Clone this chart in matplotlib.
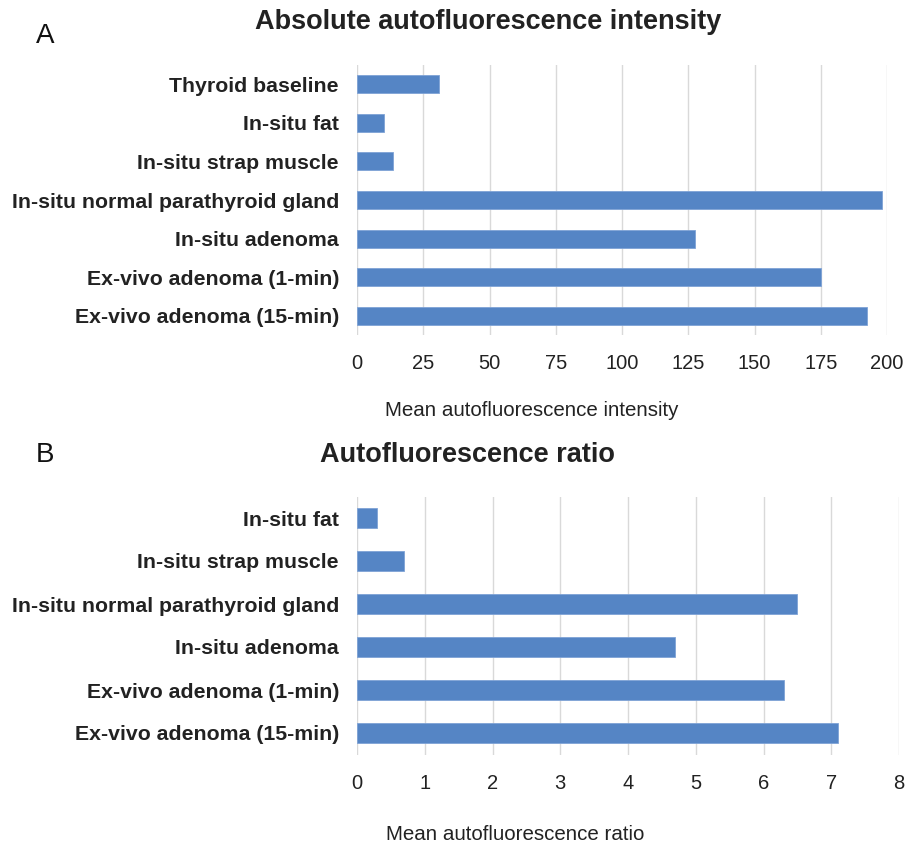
import matplotlib
matplotlib.use("Agg")
import matplotlib.pyplot as plt

plt.rcParams['font.family'] = ['Liberation Sans', 'DejaVu Sans']

cats_a = ["Thyroid baseline", "In-situ fat", "In-situ strap muscle",
          "In-situ normal parathyroid gland", "In-situ adenoma",
          "Ex-vivo adenoma (1-min)", "Ex-vivo adenoma (15-min)"]
vals_a = [31, 10, 13.7, 198, 127.5, 175, 192.6]
ticks_a = [0, 25, 50, 75, 100, 125, 150, 175, 200]

cats_b = ["In-situ fat", "In-situ strap muscle",
          "In-situ normal parathyroid gland", "In-situ adenoma",
          "Ex-vivo adenoma (1-min)", "Ex-vivo adenoma (15-min)"]
vals_b = [0.3, 0.7, 6.5, 4.7, 6.3, 7.1]
ticks_b = [0, 1, 2, 3, 4, 5, 6, 7, 8]

BAR = "#5585C5"
GRID = "#D9D9D9"

fig = plt.figure(figsize=(9.07, 8.44), dpi=100)

def panel(rect, cats, vals, ticks, title, xlabel, letter, title_xy, letter_y, xlabel_xy):
    ax = fig.add_axes(rect)
    n = len(cats)
    ypos = list(range(n))
    ax.barh(ypos, vals, height=0.47, color=BAR, edgecolor="#7FA3D6", linewidth=0.6, zorder=3)
    ax.set_ylim(n - 0.5, -0.5)
    ax.set_xlim(ticks[0], ticks[-1])
    ax.set_xticks(ticks)
    ax.set_xticklabels([str(t) for t in ticks], fontsize=14.5, color="#222222")
    ax.set_yticks(ypos)
    ax.set_yticklabels(cats, fontsize=15.3, fontweight="bold", color="#222222")
    ax.tick_params(axis="both", length=0)
    ax.tick_params(axis="x", pad=14)
    ax.tick_params(axis="y", pad=13)
    for s in ax.spines.values():
        s.set_visible(False)
    for t in ticks:
        ax.axvline(t, color=GRID, linewidth=1.0, zorder=1)
    fig.text(title_xy[0] / 907, 1 - title_xy[1] / 844, title, fontsize=19.5,
             fontweight="bold", ha="center", va="center", color="#222222")
    fig.text(45 / 907, letter_y, letter, fontsize=20, ha="center", va="center", color="#111111")
    fig.text(xlabel_xy[0] / 907, 1 - xlabel_xy[1] / 844, xlabel, fontsize=14.8,
             ha="center", va="center", color="#222222")
    return ax

panel([357 / 907, 1 - 335 / 844, 530 / 907, 270 / 844], cats_a, vals_a, ticks_a,
      "Absolute autofluorescence intensity", "Mean autofluorescence intensity", "A",
      (488, 22), 1 - 36 / 844, (532, 411))
panel([357 / 907, 1 - 754.5 / 844, 542 / 907, 258 / 844], cats_b, vals_b, ticks_b,
      "Autofluorescence ratio", "Mean autofluorescence ratio", "B",
      (467, 455), 1 - 455 / 844, (515, 835))

fig.savefig("out.png", dpi=100)
